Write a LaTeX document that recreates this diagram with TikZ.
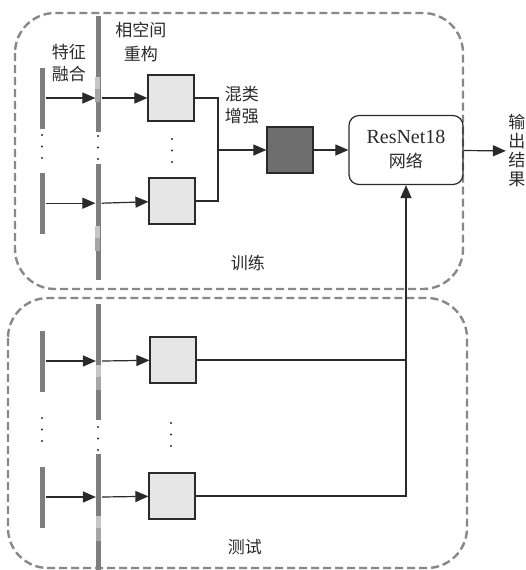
\documentclass[tikz,border=0pt]{standalone}
\usepackage{fontspec}
\setmainfont{Liberation Serif}
\newfontfamily\cjk{Noto Sans CJK SC}
\usepackage{xcolor}
\usetikzlibrary{positioning,arrows.meta}
\definecolor{bardark}{HTML}{7E7E7E}
\definecolor{barlight}{HTML}{C6C6C6}
\definecolor{barmid}{HTML}{A6A6A6}
\definecolor{cellfill}{HTML}{E6E6E6}
\definecolor{augfill}{HTML}{6E6E6E}
\definecolor{framegray}{HTML}{888888}
\definecolor{ink}{HTML}{2A2A2A}

\begin{document}
\begin{tikzpicture}[x=0.5pt,y=-0.5pt,>={Triangle[length=6.5pt,width=5.5pt]},color=ink,line width=0.6pt]
\tikzstyle{fbar}=[rectangle,fill=bardark,inner sep=0pt,minimum width=2.5pt,minimum height=30.5pt]
\tikzstyle{rbar}=[rectangle,fill=bardark,inner sep=0pt,minimum width=2.5pt,minimum height=58pt]
\tikzstyle{cell}=[rectangle,draw,fill=cellfill,inner sep=0pt,minimum size=23pt]
\tikzstyle{lbl}=[font=\cjk\fontsize{8.5}{11}\selectfont,align=center,inner sep=1pt]
\tikzstyle{frame}=[draw=framegray,line width=1.2pt,dash pattern=on 4pt off 2pt,rounded corners=20pt]
\useasboundingbox (0,0) rectangle (526,570);

% training
\draw[frame] (15,13) rectangle (463,289);
\node (fa1) [fbar] at (42.5,98) {};
\node (fa2) [fbar, below=21.5pt of fa1] {};
\node (ra1) [rbar] at (98.5,74) {};
\node (ra2) [rbar, below=15.5pt of ra1] {};
\node (cb1) [cell] at (171,98) {};
\node (cb2) [cell] at (172,201) {};
\node (aug) [cell, fill=augfill] at (290,150) {};
\node (resnet) [rectangle, draw, rounded corners=5pt, minimum width=57pt, minimum height=34.5pt, align=center, font=\fontsize{10}{12}\selectfont] at (406,150) {ResNet18\\{\cjk\fontsize{8.5}{12}\selectfont 网络}};
\node (res) [lbl, font=\cjk\fontsize{8.5}{9.5}\selectfont] at (517,151) {输\\出\\结\\果};
\node (fuse) [lbl] at (69,63) {特征\\融合};
\node (recon) [lbl, font=\cjk\fontsize{8.5}{12}\selectfont] at (141,42) {相空间\\重构};
\node (mixup) [lbl] at (242,105) {混类\\增强};
\node (train) [lbl] at (248,263) {训练};
\coordinate (mix) at (218,150);
\draw[->] (fa1) -- (fa1 -| ra1.west);
\draw[->] (fa2) -- (fa2 -| ra2.west);
\draw[->] (fa1 -| ra1.east) -- (cb1);
\draw[->] (fa2 -| ra2.east) -- (cb2);
\draw (cb1) -| (mix) |- (cb2);
\draw[->] (mix) -- (aug);
\draw[->] (aug) -- (resnet);
\draw[->] (resnet) -- (res);

% testing
\draw[frame] (8,298) rectangle (467,568);
\node (fb1) [fbar] at (42.5,361) {};
\node (fb2) [fbar] at (42.5,497) {};
\node (rb1) [rbar] at (99,362) {};
\node (rb2) [rbar, below=16.5pt of rb1] {};
\node (tb1) [cell] at (173,360) {};
\node (tb2) [cell] at (172,496) {};
\node (test) [lbl] at (245,547) {测试};
\draw[->] (fb1) -- (fb1 -| rb1.west);
\draw[->] (fb2) -- (fb2 -| rb2.west);
\draw[->] (fb1 -| rb1.east) -- (tb1);
\draw[->] (fb2 -| rb2.east) -- (tb2);
\draw (tb1) -- (tb1 -| resnet.south);
\draw[->] (tb2) -| (resnet.south);

% bar segments and dots
\foreach \b in {ra1,ra2,rb1,rb2} {
  \fill[barlight] (\b.north west) ++(0,62) rectangle ++(5,12);
  \fill[barmid] (\b.north west) ++(0,74) rectangle ++(5,13);
}
\foreach \x/\y in {42/135,98/136,172/139,42/418,98/427,171/423}
  \foreach \d in {0,11.5,23}
    \fill (\x,\y+\d) circle (0.6pt);
\end{tikzpicture}
\end{document}
